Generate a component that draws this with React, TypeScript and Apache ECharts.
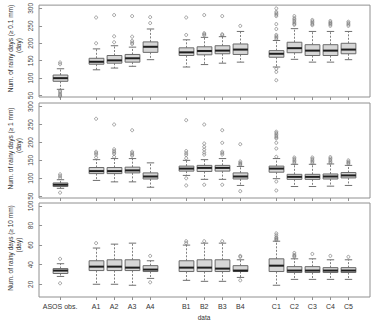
import React, { useEffect, useRef } from 'react';
import * as echarts from 'echarts';

// Model runs on the x axis; gaps separate the groups
const categories = ['ASOS obs.', 'A1', 'A2', 'A3', 'A4', 'B1', 'B2', 'B3', 'B4', 'C1', 'C2', 'C3', 'C4', 'C5'];
const positions = [1, 3, 4, 5, 6, 8, 9, 10, 11, 13, 14, 15, 16, 17];

const titles = ['Num. of rainy days (\u2265 0.1 mm)', 'Num. of rainy days (\u2265 1 mm)', 'Num. of rainy days (\u2265 10 mm)'];
const unitLabel = '(day)';
const xTitle = 'data';

const yTicksDays = [50, 100, 150, 200, 250, 300];
const yTicksHeavy = [20, 40, 60, 80, 100];

// Box statistics: [lower whisker, Q1, median, Q3, upper whisker]
const stats01 = [
  [68, 91, 100, 109, 127],
  [124, 140, 147, 157, 184],
  [129, 143, 151, 165, 193],
  [134, 146, 157, 168, 189],
  [153, 174, 190, 204, 241],
  [132, 165, 174, 187, 210],
  [139, 167, 178, 190, 217],
  [143, 170, 179, 193, 219],
  [146, 168, 182, 198, 234],
  [132, 160, 170, 179, 208],
  [154, 173, 186, 203, 242],
  [146, 165, 179, 196, 234],
  [146, 165, 179, 196, 234],
  [153, 170, 182, 200, 234],
];
const outliers01 = [
  [145, 140, 64, 60, 55, 51, 48],
  [274, 200],
  [281, 220, 203],
  [278, 219, 207, 202, 198],
  [275, 258],
  [274, 224],
  [281, 229, 226, 223],
  [278, 226, 223],
  [250],
  [300, 290, 286, 282, 278, 255, 241, 224, 220, 216, 212, 127, 118, 94],
  [278, 272, 268, 264, 260, 256, 253],
  [267, 263, 259, 255, 252],
  [264, 260, 257, 254, 250],
  [262, 258, 254, 250],
];

const stats1 = [
  [72, 77, 82, 87, 96],
  [94, 113, 120, 130, 152],
  [90, 113, 120, 130, 155],
  [90, 115, 122, 131, 155],
  [75, 98, 105, 115, 143],
  [108, 120, 127, 134, 150],
  [97, 119, 129, 136, 152],
  [97, 120, 129, 136, 155],
  [80, 98, 105, 115, 133],
  [99, 117, 127, 134, 155],
  [77, 97, 104, 111, 139],
  [77, 97, 104, 111, 139],
  [78, 98, 105, 112, 140],
  [80, 101, 108, 116, 136],
];
const outliers1 = [
  [111, 106, 101, 60],
  [266, 174, 170, 166, 158],
  [250, 181, 176, 172, 168, 160],
  [234, 174, 170, 166, 163],
  [],
  [262, 176, 170, 165, 156, 100, 80],
  [250, 197, 188, 180, 172, 166, 82],
  [234, 199, 174, 170, 166, 82],
  [195, 147, 143, 140, 137, 64],
  [230, 226, 222, 218, 214, 211, 199, 183, 160, 91, 66],
  [158, 154, 150, 146, 142],
  [158, 154, 150, 146, 142],
  [159, 155, 151, 147, 143],
  [150, 146, 143, 140],
];

const stats10 = [
  [28, 31, 34, 36, 41],
  [20, 34, 38, 44, 57],
  [20, 34, 38, 45, 61],
  [19, 34, 37, 45, 62],
  [26, 33, 35, 39, 44],
  [24, 33, 37, 44, 60],
  [23, 33, 37, 45, 62],
  [23, 33, 36, 45, 62],
  [27, 33, 34, 39, 45],
  [19, 33, 39, 46, 64],
  [25, 32, 34, 38, 46],
  [25, 32, 34, 38, 46],
  [25, 32, 34, 37, 45],
  [25, 32, 34, 37, 45],
];
const outliers10 = [
  [46, 21],
  [62],
  [],
  [],
  [49, 22],
  [64, 62],
  [64],
  [64],
  [49, 48, 24],
  [72, 70, 68, 67, 66, 65],
  [52, 50, 49, 48],
  [51],
  [49],
  [48],
];

const FONT = '"Liberation Sans", Arial, Helvetica, sans-serif';
const FRAME = '#909090';

const panels = [
  { title: titles[0], stats: stats01, outliers: outliers01, min: 46, max: 309.5, ticks: yTicksDays, top: 4, height: 93 },
  { title: titles[1], stats: stats1, outliers: outliers1, min: 45, max: 310, ticks: yTicksDays, top: 103, height: 95 },
  { title: titles[2], stats: stats10, outliers: outliers10, min: 7, max: 103, ticks: yTicksHeavy, top: 203, height: 94 },
];

const labelFor = (v: number) => {
  const k = positions.indexOf(Math.round(v));
  return k >= 0 ? categories[k] : '';
};

const renderBox = (_params: any, api: any) => {
  const x = api.value(0);
  const cx = api.coord([x, api.value(3)])[0];
  const yLo = api.coord([x, api.value(1)])[1];
  const yQ1 = api.coord([x, api.value(2)])[1];
  const yMd = api.coord([x, api.value(3)])[1];
  const yQ3 = api.coord([x, api.value(4)])[1];
  const yHi = api.coord([x, api.value(5)])[1];
  const unit = api.size([1, 0])[0];
  const bw = unit * 0.82;
  const cw = bw * 0.5;
  const px = Math.round(cx) + 0.5;
  const whisker = { stroke: '#808080', lineWidth: 1, lineDash: [2, 1.5] };
  const cap = { stroke: '#707070', lineWidth: 1 };
  return {
    type: 'group',
    children: [
      { type: 'line', shape: { x1: px, y1: yQ3, x2: px, y2: yHi }, style: whisker },
      { type: 'line', shape: { x1: px, y1: yQ1, x2: px, y2: yLo }, style: whisker },
      { type: 'line', shape: { x1: px - cw / 2, y1: yHi, x2: px + cw / 2, y2: yHi }, style: cap },
      { type: 'line', shape: { x1: px - cw / 2, y1: yLo, x2: px + cw / 2, y2: yLo }, style: cap },
      {
        type: 'rect',
        shape: { x: px - bw / 2, y: yQ3, width: bw, height: yQ1 - yQ3 },
        style: { fill: '#d6d6d6', stroke: '#6a6a6a', lineWidth: 1 },
      },
      { type: 'line', shape: { x1: px - bw / 2, y1: yMd, x2: px + bw / 2, y2: yMd }, style: { stroke: '#1e1e1e', lineWidth: 2 } },
    ],
  };
};

export default function App() {
  const ref = useRef<HTMLDivElement>(null);

  useEffect(() => {
    if (!ref.current) return;
    const chart = echarts.init(ref.current, null, { renderer: 'svg' });

    const grid = panels.map((p) => ({
      left: 39,
      right: 3,
      top: p.top,
      height: p.height,
      show: true,
      borderColor: FRAME,
      borderWidth: 1,
      backgroundColor: 'transparent',
    }));

    const xAxis = panels.map((_p, i) => ({
      type: 'value',
      gridIndex: i,
      min: -0.17,
      max: 18.2,
      axisLine: { show: false },
      axisTick: { show: true, customValues: positions, length: 3, lineStyle: { color: FRAME } },
      axisLabel: {
        show: i === 2,
        customValues: positions,
        formatter: (v: number) => labelFor(v),
        fontSize: 7,
        color: '#333',
        margin: 6,
        fontFamily: FONT,
      },
      splitLine: { show: false },
    }));

    const yAxis = panels.map((p, i) => ({
      type: 'value',
      gridIndex: i,
      min: p.min,
      max: p.max,
      axisLine: { show: false },
      axisTick: { show: true, customValues: p.ticks, length: 3, lineStyle: { color: FRAME } },
      axisLabel: {
        customValues: p.ticks,
        rotate: 90,
        fontSize: 6.5,
        color: '#444',
        margin: 5,
        fontFamily: FONT,
      },
      splitLine: { show: false },
    }));

    const series: any[] = [];
    panels.forEach((p, i) => {
      series.push({
        type: 'custom',
        xAxisIndex: i,
        yAxisIndex: i,
        renderItem: renderBox,
        encode: { x: 0, y: [1, 2, 3, 4, 5] },
        data: p.stats.map((s, k) => [positions[k], ...s]),
        z: 2,
      });
      const pts: number[][] = [];
      p.outliers.forEach((list, k) => list.forEach((v) => pts.push([positions[k], v])));
      series.push({
        type: 'scatter',
        xAxisIndex: i,
        yAxisIndex: i,
        data: pts,
        symbol: 'circle',
        symbolSize: 3,
        itemStyle: { color: 'rgba(0,0,0,0)', borderColor: '#6f6f6f', borderWidth: 0.8 },
        z: 3,
      });
    });

    const graphic: any[] = [];
    panels.forEach((p) => {
      const cy = p.top + p.height / 2;
      graphic.push({
        type: 'text',
        x: 10,
        y: cy - 2,
        rotation: Math.PI / 2,
        style: { text: p.title, fontSize: 6.5, fill: '#333', fontFamily: FONT, align: 'center', verticalAlign: 'middle' },
      });
      graphic.push({
        type: 'text',
        x: 18,
        y: cy - 5,
        rotation: Math.PI / 2,
        style: { text: unitLabel, fontSize: 6.5, fill: '#333', fontFamily: FONT, align: 'center', verticalAlign: 'middle' },
      });
    });
    graphic.push({
      type: 'text',
      x: 204,
      y: 317,
      style: { text: xTitle, fontSize: 6.5, fill: '#333', fontFamily: FONT, align: 'center', verticalAlign: 'middle' },
    });

    chart.setOption({
      animation: false,
      textStyle: { fontFamily: FONT },
      grid,
      xAxis,
      yAxis,
      series,
      graphic,
    });

    return () => chart.dispose();
  }, []);

  return (
    <div
      ref={ref}
      style={{ position: 'fixed', left: 0, top: 0, width: 373, height: 324, background: '#fff' }}
    />
  );
}
